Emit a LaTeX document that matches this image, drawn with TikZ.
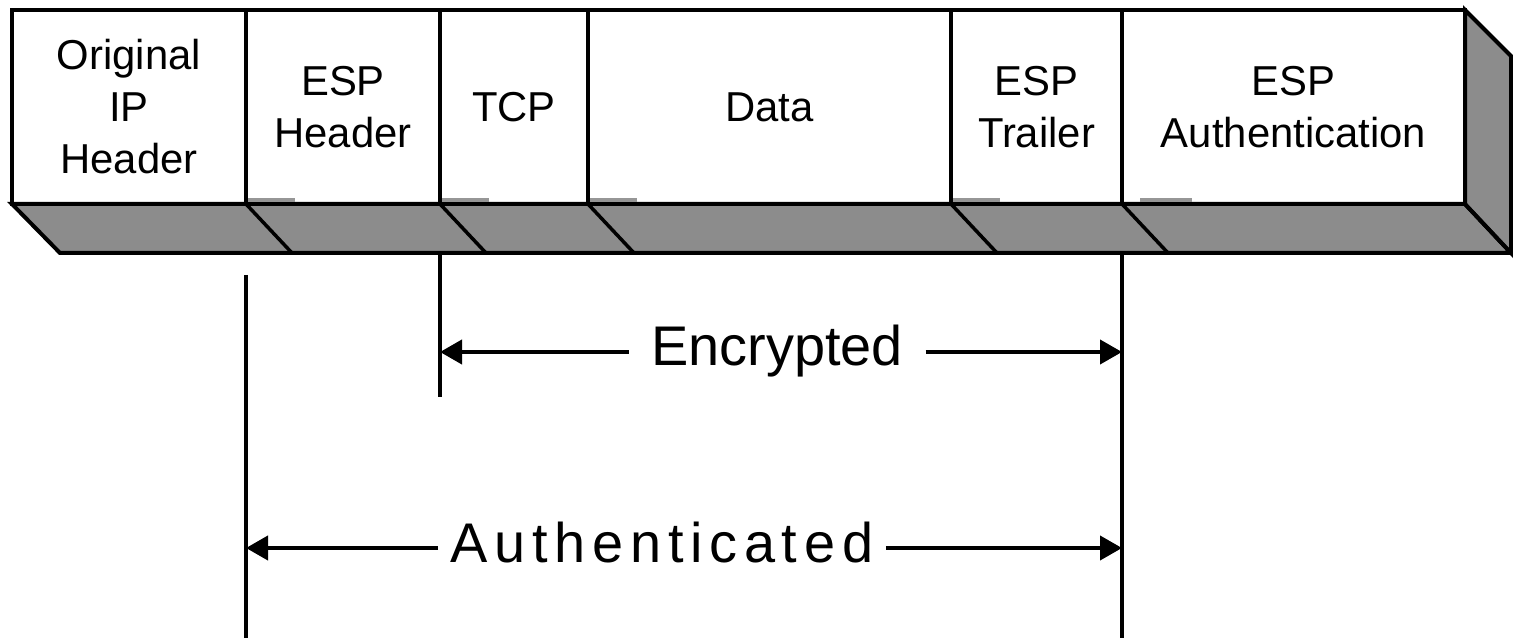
\documentclass[tikz,border=0pt]{standalone}
\usepackage{fontspec}
\setmainfont{Liberation Sans}
\usetikzlibrary{positioning, calc, arrows.meta}
\definecolor{espshade}{RGB}{140, 140, 140}
\definecolor{esptab}{RGB}{150, 150, 150}

\begin{document}
\begin{tikzpicture}[
      field/.style={draw, fill=white, line width=0.04cm, outer sep=0pt, inner sep=0pt,
                    minimum height=1.94cm, align=center, font=\fontsize{11.9}{14.8}\selectfont},
      face/.style={draw, fill=espshade, line width=0.04cm, line join=miter},
      edge3d/.style={line width=0.035cm},
      dimline/.style={line width=0.04cm},
      dimarrow/.style={-{Triangle[length=0.22cm, width=0.24cm]}, line width=0.04cm},
      dimlabel/.style={font=\fontsize{15.9}{18}\selectfont, inner xsep=0.22cm,
                       text height=0.4cm, text depth=0.12cm}
    ]
      \useasboundingbox (0,0) rectangle (15.13,6.38);
      \coordinate (base) at (0,0);
      \coordinate (tcpEnd) at (0,2.41);

      % Paquet ESP
      \node[field, minimum width=2.34cm, anchor=north west] (iphdr) at (0.12,6.28) {Original\\IP\\Header};
      \node[field, minimum width=1.94cm, right=0pt of iphdr] (esphdr) {ESP\\Header};
      \node[field, minimum width=1.48cm, right=0pt of esphdr] (tcp) {TCP};
      \node[field, minimum width=3.63cm, right=0pt of tcp] (data) {Data};
      \node[field, minimum width=1.71cm, right=0pt of data] (trailer) {ESP\\Trailer};
      \node[field, minimum width=3.43cm, right=0pt of trailer] (auth) {ESP\\Authentication};

      % Faces 3D
      \draw[face] (iphdr.south west) -- (auth.south east) -- ++(0.46,-0.49)
                  -- ($(iphdr.south west)+(0.48,-0.49)$) -- cycle;
      \draw[face] (auth.north east) -- ++(0.46,-0.46)
                  -- ($(auth.south east)+(0.46,-0.49)$) -- (auth.south east) -- cycle;
      \foreach \n in {esphdr, tcp, data, trailer, auth}
        \draw[edge3d] (\n.south west) -- ++(0.46,-0.49);
      \draw[edge3d] (auth.south east) -- ++(0.46,-0.49);

      % Petits onglets
      \foreach \n in {esphdr, tcp, data, trailer}
        \fill[esptab] ($(\n.south west)+(0.02,0.02)$) rectangle ++(0.47,0.04);
      \fill[esptab] ($(auth.south west)+(0.18,0.02)$) rectangle ++(0.52,0.04);

      % Lignes de cote
      \coordinate (espTop) at ($(esphdr.south west)+(0,-0.71)$);
      \coordinate (espBot) at (esphdr.south west |- base);
      \coordinate (tcpTop) at ($(tcp.south west)+(0,-0.49)$);
      \coordinate (tcpBot) at (tcp.south west |- tcpEnd);
      \coordinate (authTop) at ($(auth.south west)+(0,-0.49)$);
      \coordinate (authBot) at (auth.south west |- base);
      \draw[dimline] (espTop) -- (espBot);
      \draw[dimline] (tcpTop) -- (tcpBot);
      \draw[dimline] (authTop) -- (authBot);

      % Chiffrement / authentification
      \node[dimlabel] (enclabel) at (7.77,2.86) {Encrypted};
      \node[dimlabel, inner xsep=0.12cm] (authlabel) at (6.62,0.90)
            {\addfontfeature{LetterSpace=12}Authenticated};
      \coordinate (encL) at (tcp.south west |- enclabel);
      \coordinate (encR) at (auth.south west |- enclabel);
      \coordinate (authL) at (esphdr.south west |- authlabel);
      \coordinate (authR) at (auth.south west |- authlabel);
      \draw[dimarrow] (enclabel) -- (encL);
      \draw[dimarrow] (enclabel) -- (encR);
      \draw[dimarrow] (authlabel) -- (authL);
      \draw[dimarrow] (authlabel) -- (authR);
    \end{tikzpicture}
\end{document}
